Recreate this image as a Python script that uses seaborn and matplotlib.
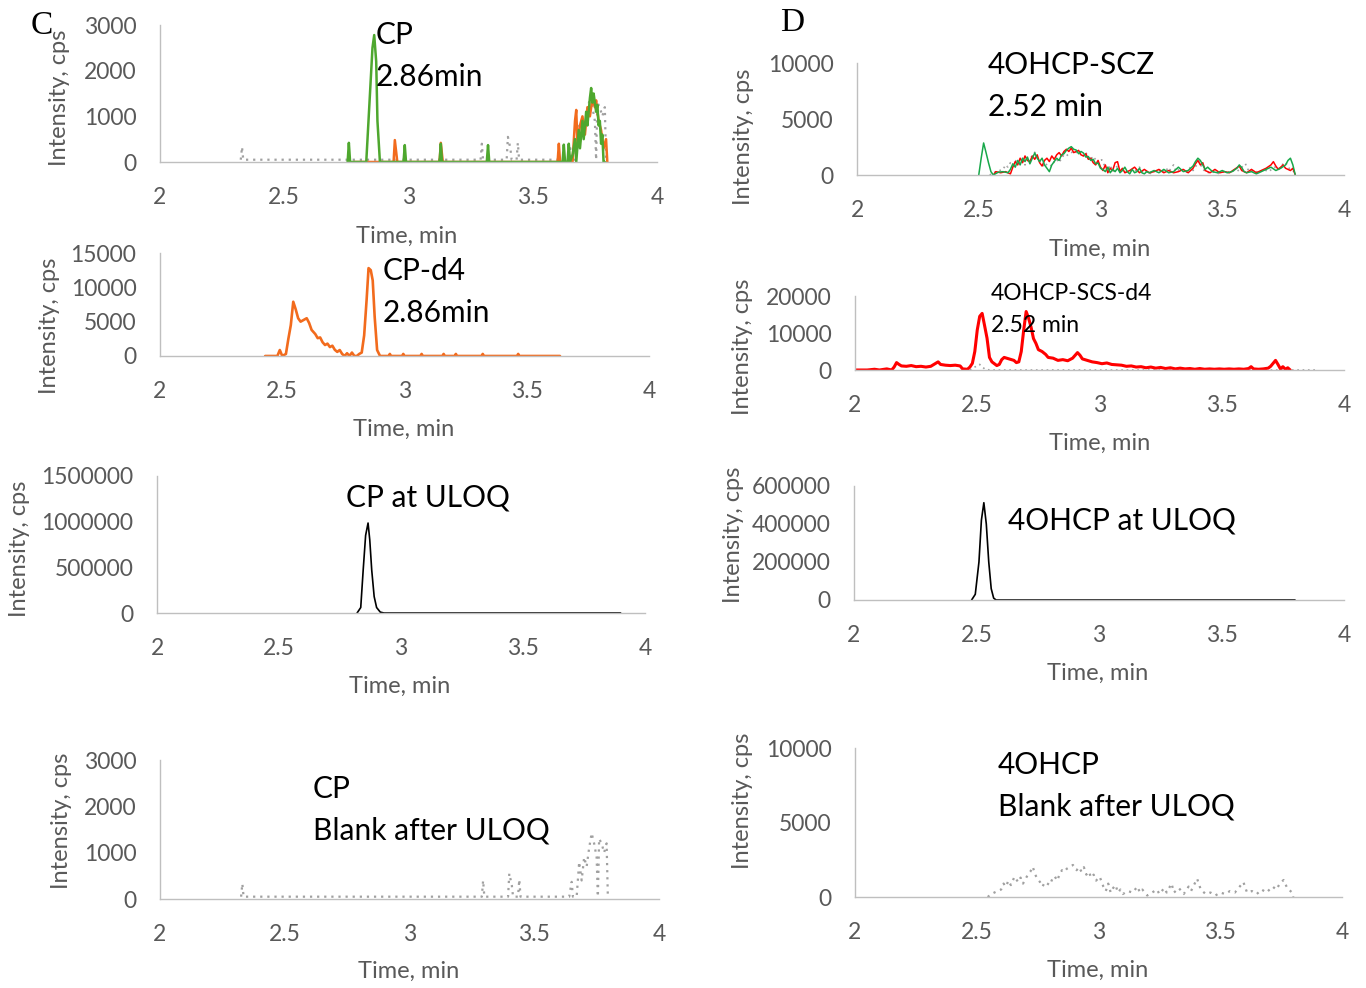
import matplotlib
matplotlib.use("Agg")
import matplotlib.pyplot as plt
import seaborn as sns

sns.set_theme(style="white")
plt.rcParams['font.family'] = ['Lato', 'DejaVu Sans']

W, H = 1366, 988

# ---------------- data ----------------
x_ticks = [2, 2.5, 3, 3.5, 4]
x_tick_labels = ["2", "2.5", "3", "3.5", "4"]

# Panel C1: CP sample (green), second sample (orange)
cp_green_t = [2.755, 2.76, 2.765, 2.83, 2.845, 2.855, 2.862, 2.87, 2.875, 2.885, 2.98, 2.985, 2.99,
              3.125, 3.13, 3.135, 3.315, 3.32, 3.325, 3.62, 3.625, 3.63, 3.64, 3.645, 3.65, 3.66,
              3.67, 3.675, 3.685, 3.69, 3.70, 3.705, 3.715, 3.72, 3.73, 3.735, 3.74, 3.745, 3.755,
              3.76, 3.765, 3.77, 3.775, 3.78, 3.785, 3.79]
cp_green_v = [0, 420, 0, 0, 1500, 2500, 2780, 2200, 900, 0, 0, 370, 0,
              0, 400, 0, 0, 370, 0, 0, 380, 0, 0, 400, 0, 150,
              500, 0, 700, 300, 900, 500, 1100, 800, 1400, 1620, 1300, 1500, 1100,
              1250, 800, 900, 400, 600, 0, 0]
cp_orange_t = [2.78, 2.94, 2.945, 2.955, 3.125, 3.13, 3.138, 3.60, 3.605, 3.61, 3.66, 3.67, 3.675,
               3.68, 3.69, 3.70, 3.71, 3.72, 3.73, 3.74, 3.75, 3.755, 3.765, 3.775, 3.785, 3.795, 3.80]
cp_orange_v = [0, 0, 480, 0, 0, 420, 0, 0, 400, 0, 0, 900, 1140,
               400, 800, 1000, 600, 1200, 1000, 1380, 1200, 1350, 900, 700, 300, 500, 0]

# CP blank after ULOQ (grey dotted, also under C1)
cp_blank_t = [2.325, 2.33, 2.335, 3.29, 3.295, 3.30, 3.395, 3.40, 3.41, 3.415, 3.435, 3.44, 3.445,
              3.64, 3.65, 3.655, 3.67, 3.68, 3.69, 3.70, 3.71, 3.72, 3.73, 3.74, 3.75, 3.755,
              3.76, 3.77, 3.78, 3.79, 3.795]
cp_blank_v = [50, 330, 50, 50, 400, 50, 50, 550, 300, 50, 50, 420, 50,
              50, 370, 50, 50, 800, 400, 900, 700, 1100, 1420, 1200, 900, 50,
              1300, 1200, 1000, 1200, 50]

# Panel C2: CP-d4
cpd4_t = [2.43, 2.48, 2.49, 2.50, 2.515, 2.525, 2.535, 2.545, 2.555, 2.565, 2.575, 2.59, 2.60,
          2.61, 2.62, 2.635, 2.645, 2.655, 2.665, 2.675, 2.685, 2.695, 2.705, 2.715, 2.725,
          2.735, 2.745, 2.755, 2.765, 2.775, 2.785, 2.795, 2.805, 2.815, 2.825, 2.835, 2.845,
          2.853, 2.862, 2.87, 2.878, 2.888, 2.90, 2.935, 2.94, 2.945, 2.99, 2.995, 3.0,
          3.065, 3.07, 3.075, 3.155, 3.16, 3.165, 3.205, 3.21, 3.215, 3.315, 3.32, 3.325,
          3.46, 3.465, 3.47, 3.636]
cpd4_v = [0, 0, 870, 0, 300, 2500, 4500, 7900, 6800, 5500, 5000, 5300, 5500,
          4800, 3800, 3200, 2600, 2700, 2000, 1600, 1800, 1300, 1500, 900, 600,
          870, 300, 0, 400, 0, 500, 0, 0, 300, 500, 3000, 8150,
          12800, 12500, 11000, 5700, 870, 0, 0, 300, 0, 0, 300, 0,
          0, 300, 0, 0, 300, 0, 0, 300, 0, 0, 300, 0,
          0, 300, 0, 0]

# Panel C3: CP at ULOQ
cp_uloq_t = [2.82, 2.835, 2.845, 2.855, 2.865, 2.872, 2.88, 2.89, 2.90, 2.915, 2.93, 3.90]
cp_uloq_v = [0, 60000, 470000, 850000, 985000, 800000, 470000, 180000, 60000, 10000, 0, 0]

# Panel D1: 4OHCP-SCZ (green and red samples)
oh_green_t = [2.50, 2.51, 2.52, 2.53, 2.54, 2.55, 2.56, 2.58, 2.60, 2.62, 2.63, 2.64, 2.65, 2.66,
              2.67, 2.68, 2.69, 2.70, 2.71, 2.72, 2.73, 2.74, 2.75, 2.76, 2.77, 2.78, 2.79, 2.80,
              2.81, 2.82, 2.83, 2.84, 2.85, 2.86, 2.87, 2.88, 2.89, 2.90, 2.91, 2.92, 2.93, 2.94,
              2.95, 2.96, 2.97, 2.98, 2.99, 3.00, 3.01, 3.02, 3.03, 3.04, 3.05, 3.06, 3.07, 3.08,
              3.09, 3.10, 3.11, 3.12, 3.13, 3.14, 3.15, 3.16, 3.17, 3.18, 3.19, 3.20, 3.22, 3.24,
              3.26, 3.28, 3.30, 3.32, 3.34, 3.36, 3.38, 3.39, 3.40, 3.41, 3.42, 3.43, 3.44, 3.46,
              3.48, 3.50, 3.52, 3.54, 3.56, 3.57, 3.58, 3.59, 3.60, 3.62, 3.64, 3.66, 3.68, 3.70,
              3.72, 3.74, 3.76, 3.77, 3.78, 3.79, 3.80]
oh_green_v = [0, 1500, 2860, 2000, 1100, 300, 0, 250, 300, 200, 500, 1000, 700, 1300,
              900, 1500, 1200, 1600, 1000, 1500, 1960, 1500, 1200, 1500, 900, 600, 300, 900,
              1200, 1500, 1300, 1800, 1900, 2200, 2400, 2530, 2300, 2230, 1900, 2100, 1960, 1600,
              1650, 1300, 1400, 1000, 1070, 600, 480, 300, 700, 200, 500, 300, 600, 200,
              400, 700, 300, 100, 500, 200, 300, 600, 200, 100, 300, 200, 400, 200,
              500, 200, 300, 700, 300, 400, 800, 1200, 1500, 1300, 900, 500, 700, 300,
              200, 400, 200, 300, 600, 900, 660, 300, 200, 300, 100, 300, 500, 700,
              400, 600, 900, 1300, 1500, 900, 0]
oh_red_t = [2.56, 2.57, 2.59, 2.61, 2.63, 2.64, 2.65, 2.66, 2.67, 2.68, 2.69, 2.70, 2.71, 2.72,
            2.73, 2.74, 2.75, 2.76, 2.77, 2.78, 2.79, 2.80, 2.81, 2.82, 2.83, 2.84, 2.85, 2.86,
            2.87, 2.88, 2.89, 2.90, 2.91, 2.92, 2.93, 2.94, 2.95, 2.96, 2.97, 2.98, 2.99, 3.00,
            3.01, 3.02, 3.03, 3.04, 3.05, 3.06, 3.07, 3.08, 3.09, 3.10, 3.12, 3.14, 3.16, 3.18,
            3.20, 3.22, 3.24, 3.26, 3.28, 3.30, 3.32, 3.34, 3.36, 3.38, 3.39, 3.40, 3.41, 3.42,
            3.43, 3.45, 3.47, 3.49, 3.51, 3.53, 3.55, 3.57, 3.58, 3.60, 3.62, 3.64, 3.66, 3.68,
            3.70, 3.71, 3.72, 3.73, 3.74, 3.75, 3.76, 3.78, 3.79, 3.80]
oh_red_v = [0, 300, 200, 300, 100, 700, 1200, 900, 1500, 1100, 1700, 1300, 1200, 1700,
            1400, 1800, 1100, 800, 1300, 1500, 1200, 1700, 1400, 1800, 2000, 1700, 2100, 2300,
            2100, 2400, 2000, 2100, 2200, 1800, 1700, 1900, 1400, 1500, 1100, 900, 1300, 700,
            400, 900, 200, 600, 400, 1100, 1190, 300, 600, 200, 400, 700, 200, 500,
            200, 300, 500, 200, 400, 200, 300, 500, 200, 600, 1000, 1300, 900, 1100,
            400, 200, 500, 200, 300, 200, 500, 800, 400, 200, 500, 200, 400, 600,
            900, 1190, 800, 500, 700, 900, 600, 400, 600, 0]

# 4OHCP blank after ULOQ (grey dotted)
oh_blank_t = [2.545, 2.56, 2.58, 2.60, 2.61, 2.62, 2.63, 2.64, 2.655, 2.67, 2.68, 2.69, 2.70, 2.71,
              2.72, 2.73, 2.74, 2.75, 2.76, 2.77, 2.78, 2.79, 2.80, 2.81, 2.82, 2.83, 2.84, 2.85,
              2.86, 2.87, 2.88, 2.895, 2.91, 2.92, 2.93, 2.94, 2.95, 2.96, 2.97, 2.98, 2.99, 3.005,
              3.02, 3.03, 3.04, 3.05, 3.06, 3.07, 3.08, 3.09, 3.10, 3.12, 3.14, 3.16, 3.17, 3.18,
              3.20, 3.22, 3.24, 3.25, 3.27, 3.28, 3.30, 3.31, 3.33, 3.35, 3.37, 3.38, 3.395, 3.405,
              3.42, 3.44, 3.46, 3.48, 3.50, 3.52, 3.54, 3.56, 3.58, 3.595, 3.61, 3.63, 3.65, 3.67,
              3.69, 3.715, 3.73, 3.745, 3.76, 3.775, 3.795, 3.80]
oh_blank_v = [0, 200, 360, 500, 900, 700, 1100, 800, 1360, 1000, 1300, 900, 1200, 1500,
              1700, 2030, 1500, 1200, 1000, 700, 1000, 900, 800, 1200, 1400, 1100, 1500, 1800,
              1700, 1900, 2000, 2150, 1800, 2000, 1700, 2000, 1500, 1700, 1300, 1500, 1100, 1360,
              700, 400, 900, 300, 600, 800, 300, 500, 200, 400, 300, 700, 300, 500,
              100, 300, 500, 200, 600, 300, 900, 300, 600, 200, 700, 400, 900, 1230,
              500, 200, 300, 100, 300, 200, 400, 300, 700, 1000, 300, 400, 200, 500,
              300, 700, 500, 900, 1140, 600, 300, 0]

# Panel D2: 4OHCP-SCS-d4
ohd4_t = [2.00, 2.05, 2.08, 2.10, 2.13, 2.15, 2.16, 2.17, 2.18, 2.19, 2.21, 2.23, 2.25, 2.27,
          2.29, 2.31, 2.33, 2.34, 2.35, 2.37, 2.39, 2.41, 2.43, 2.44, 2.46, 2.47, 2.48, 2.49,
          2.50, 2.51, 2.52, 2.53, 2.54, 2.55, 2.56, 2.58, 2.59, 2.60, 2.61, 2.62, 2.635, 2.65,
          2.66, 2.67, 2.68, 2.69, 2.70, 2.71, 2.72, 2.73, 2.74, 2.75, 2.765, 2.78, 2.79, 2.81,
          2.83, 2.85, 2.87, 2.89, 2.91, 2.92, 2.93, 2.95, 2.97, 2.99, 3.01, 3.03, 3.05, 3.07,
          3.09, 3.11, 3.13, 3.15, 3.17, 3.19, 3.21, 3.23, 3.25, 3.27, 3.29, 3.31, 3.33, 3.35,
          3.37, 3.39, 3.41, 3.43, 3.45, 3.47, 3.49, 3.51, 3.53, 3.55, 3.57, 3.59, 3.61, 3.62,
          3.63, 3.65, 3.67, 3.69, 3.70, 3.71, 3.72, 3.73, 3.74, 3.75, 3.76, 3.77, 3.78]
ohd4_v = [0, 0, 200, 0, 300, 0, 800, 2000, 1500, 1100, 1000, 1200, 900, 1000,
          800, 1000, 1800, 2200, 1500, 1300, 1200, 1300, 1100, 300, 200, 800, 1800, 5000,
          10800, 14500, 15300, 12000, 8600, 3400, 2200, 1200, 1500, 2800, 3400, 3200, 2900, 2600,
          2000, 2200, 5000, 10800, 15800, 14000, 11600, 8500, 7200, 5500, 5000, 4200, 3400, 3200,
          2600, 2800, 2500, 3200, 4700, 4000, 3000, 2600, 2200, 2000, 1700, 1900, 1500, 1400,
          1300, 1000, 1100, 800, 900, 600, 800, 500, 700, 400, 600, 300, 500, 300,
          400, 200, 400, 200, 300, 200, 300, 200, 300, 200, 300, 200, 400, 900,
          300, 200, 300, 500, 1000, 1800, 2600, 1500, 300, 900, 200, 600, 0]
ohd4_grey_t = [2.47, 2.49, 2.51, 2.53, 2.55, 3.78, 3.89]
ohd4_grey_v = [0, 800, 1500, 300, 0, 0, 0]

# Panel D3: 4OHCP at ULOQ
oh_uloq_t = [2.48, 2.495, 2.51, 2.52, 2.53, 2.54, 2.55, 2.56, 2.57, 2.58, 3.80]
oh_uloq_v = [0, 30000, 200000, 420000, 512000, 400000, 200000, 60000, 10000, 0, 0]

# ---------------- styling ----------------
GREY_TXT = "#595959"
AXIS_C = "#bfbfbf"
GREEN_C = "#4ea72e"
ORANGE_C = "#f26b1d"
GREEN_D = "#18a84a"
RED = "#ff0000"
DOT_GREY = "#a0a0a0"
TICK_FS = 16.5
LAB_FS = 17
ANN_FS = 21.5

fig = plt.figure(figsize=(W / 100, H / 100), dpi=100)


def px_axes(x0, ytop, x1, ybot):
    return fig.add_axes([x0 / W, 1 - ybot / H, (x1 - x0) / W, (ybot - ytop) / H])


def style(ax, ymax, yticks):
    ax.set_xlim(2, 4)
    ax.set_ylim(0, ymax)
    ax.set_xticks(x_ticks)
    ax.set_xticklabels(x_tick_labels)
    ax.set_yticks(yticks)
    ax.set_yticklabels([str(v) for v in yticks])
    for s in ["top", "right"]:
        ax.spines[s].set_visible(False)
    for s in ["left", "bottom"]:
        ax.spines[s].set_color(AXIS_C)
        ax.spines[s].set_linewidth(1.0)
    ax.tick_params(axis="both", length=0, colors=GREY_TXT, labelsize=TICK_FS)
    ax.tick_params(axis="x", pad=18)
    ax.tick_params(axis="y", pad=17)
    ax.set_xlabel("")
    ax.set_ylabel("")
    ax.patch.set_alpha(0)


def line(ax, t, v, color, lw, dotted=False):
    kw = {}
    if dotted:
        kw["linestyle"] = (0, (1, 2.2))
    sns.lineplot(x=t, y=v, ax=ax, color=color, linewidth=lw, sort=False,
                 estimator=None, legend=False, **kw)


def ftext(x, y, s, fs=ANN_FS, color="black", ha="left", rot=0, family=None):
    kw = {}
    if family:
        kw["family"] = family
    fig.text(x / W, 1 - y / H, s, fontsize=fs, color=color, ha=ha, va="center",
             rotation=rot, **kw)


# ---- C1 ----
ax = px_axes(160, 25, 657, 162)
line(ax, cp_blank_t, cp_blank_v, DOT_GREY, 1.6, dotted=True)
line(ax, cp_orange_t, cp_orange_v, ORANGE_C, 1.8)
line(ax, cp_green_t, cp_green_v, GREEN_C, 1.8)
style(ax, 3000, [0, 1000, 2000, 3000])
ftext(376, 35, "CP")
ftext(376, 77, "2.86min")
ftext(407, 236, "Time, min", fs=LAB_FS, color=GREY_TXT, ha="center")
ftext(60, 98, "Intensity, cps", fs=LAB_FS, color=GREY_TXT, ha="center", rot=90)

# ---- C2 ----
ax = px_axes(160, 253, 649, 356)
line(ax, cpd4_t, cpd4_v, ORANGE_C, 1.9)
style(ax, 15000, [0, 5000, 10000, 15000])
ftext(383, 271, "CP-d4")
ftext(383, 313, "2.86min")
ftext(404, 429, "Time, min", fs=LAB_FS, color=GREY_TXT, ha="center")
ftext(50, 326, "Intensity, cps", fs=LAB_FS, color=GREY_TXT, ha="center", rot=90)

# ---- C3 ----
ax = px_axes(157, 476, 645, 613)
line(ax, cp_uloq_t, cp_uloq_v, "black", 1.2)
style(ax, 1500000, [0, 500000, 1000000, 1500000])
ftext(346, 497, "CP at ULOQ")
ftext(400, 686, "Time, min", fs=LAB_FS, color=GREY_TXT, ha="center")
ftext(20, 549, "Intensity, cps", fs=LAB_FS, color=GREY_TXT, ha="center", rot=90)

# ---- C4 ----
ax = px_axes(160, 760, 659, 899)
line(ax, cp_blank_t, cp_blank_v, DOT_GREY, 1.6, dotted=True)
style(ax, 3000, [0, 1000, 2000, 3000])
ftext(313, 789, "CP")
ftext(313, 830, "Blank after ULOQ")
ftext(409, 971, "Time, min", fs=LAB_FS, color=GREY_TXT, ha="center")
ftext(62, 821, "Intensity, cps", fs=LAB_FS, color=GREY_TXT, ha="center", rot=90)

# ---- D1 ----
ax = px_axes(857, 63, 1344, 175)
line(ax, oh_blank_t, oh_blank_v, DOT_GREY, 1.2, dotted=True)
line(ax, oh_red_t, oh_red_v, RED, 1.1)
line(ax, oh_green_t, oh_green_v, GREEN_D, 1.1)
style(ax, 10000, [0, 5000, 10000])
ftext(988, 65, "4OHCP-SCZ")
ftext(988, 107, "2.52 min")
ftext(1100, 249, "Time, min", fs=LAB_FS, color=GREY_TXT, ha="center")
ftext(744, 137, "Intensity, cps", fs=LAB_FS, color=GREY_TXT, ha="center", rot=90)

# ---- D2 ----
ax = px_axes(855, 296, 1344, 370)
line(ax, ohd4_grey_t, ohd4_grey_v, DOT_GREY, 1.2, dotted=True)
line(ax, ohd4_t, ohd4_v, RED, 2.2)
style(ax, 20000, [0, 10000, 20000])
ftext(991, 293, "4OHCP-SCS-d4", fs=16.5)
ftext(991, 326, "2.52 min", fs=16.5)
ftext(1100, 443, "Time, min", fs=LAB_FS, color=GREY_TXT, ha="center")
ftext(743, 347, "Intensity, cps", fs=LAB_FS, color=GREY_TXT, ha="center", rot=90)

# ---- D3 ----
ax = px_axes(854, 486, 1344, 600)
line(ax, oh_uloq_t, oh_uloq_v, "black", 1.2)
style(ax, 600000, [0, 200000, 400000, 600000])
ftext(1008, 520, "4OHCP at ULOQ")
ftext(1098, 673, "Time, min", fs=LAB_FS, color=GREY_TXT, ha="center")
ftext(733, 535, "Intensity, cps", fs=LAB_FS, color=GREY_TXT, ha="center", rot=90)

# ---- D4 ----
ax = px_axes(855, 748, 1342, 897)
line(ax, oh_blank_t, oh_blank_v, DOT_GREY, 1.6, dotted=True)
style(ax, 10000, [0, 5000, 10000])
ftext(998, 765, "4OHCP")
ftext(998, 806, "Blank after ULOQ")
ftext(1098, 970, "Time, min", fs=LAB_FS, color=GREY_TXT, ha="center")
ftext(743, 801, "Intensity, cps", fs=LAB_FS, color=GREY_TXT, ha="center", rot=90)

# Panel letters
ftext(42, 26, "C", fs=24, family="Liberation Serif", ha="center")
ftext(792, 23, "D", fs=24, family="Liberation Serif", ha="center")

fig.savefig("out.png", dpi=100)
